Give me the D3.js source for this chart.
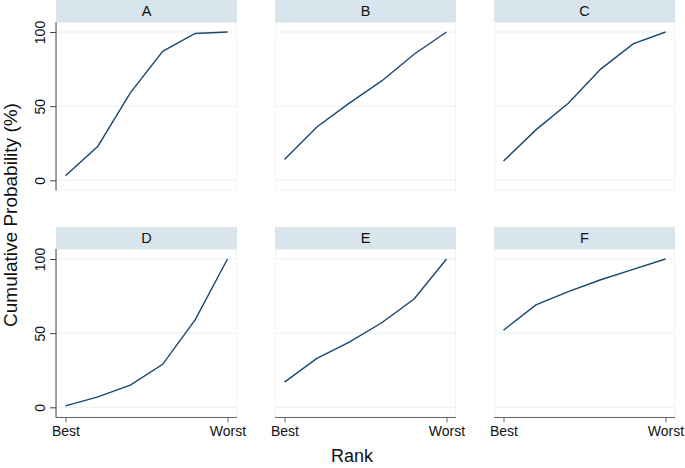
<!DOCTYPE html>
<html><head><meta charset="utf-8">
<script src="https://cdn.jsdelivr.net/npm/d3@7"></script>
<style>body{margin:0;background:#fff}svg{display:block;font-family:"Liberation Sans",Arial,sans-serif}</style>
</head><body><svg id="c" width="685" height="468"></svg>
<script>
const panels = ["A","B","C","D","E","F"];
const ranks = [1,2,3,4,5,6];
const valsA = [3,23,59,87,99,100];
const valsB = [14,36,52,67,85,100];
const valsC = [13,34,52,75,92,100];
const valsD = [1,7,15,29,59,100];
const valsE = [17,33,44,57,73,100];
const valsF = [52,69,78,86,93,100];
const series = [valsA,valsB,valsC,valsD,valsE,valsF];
const yTicks = [0,50,100];
const xTickVals = [1,6];
const xTickLabels = ["Best","Worst"];

const svg = d3.select("#c");
const colX = [56,275,494], pw = 181;
const rowTop = [0,227], hh = 22, ph = 168.5;
const lineColor = "#1a476f";

panels.forEach((p,i)=>{
  const c = i%3, r = Math.floor(i/3);
  const left = colX[c], top = rowTop[r];
  const pTop = top+hh, pBot = pTop+ph;
  const x = d3.scaleLinear().domain([1,6]).range([left+9.5,left+pw-9.5]);
  const y = d3.scaleLinear().domain([0,100]).range([pBot-10.2,pTop+10]);
  const g = svg.append("g");
  g.append("rect").attr("x",left).attr("y",top).attr("width",pw).attr("height",hh).attr("fill","#d9e5ec");
  g.append("text").attr("x",left+pw/2).attr("y",top+hh/2+5).attr("text-anchor","middle")
    .attr("font-size",14.5).attr("fill","#111").text(p);
  g.append("rect").attr("x",left+0.5).attr("y",pTop+0.5).attr("width",pw-1).attr("height",ph-1)
    .attr("fill","none").attr("stroke","#eef3f5");
  g.selectAll(".grid").data(yTicks).enter().append("line")
    .attr("x1",left).attr("x2",left+pw).attr("y1",d=>y(d)).attr("y2",d=>y(d))
    .attr("stroke","#e8f0f2").attr("stroke-width",1);
  if(c===0){
    const ax = g.append("g").attr("transform",`translate(${left},0)`)
      .call(d3.axisLeft(y).tickValues(yTicks).tickSize(6).tickPadding(4).tickFormat(d3.format("d")));
    ax.select(".domain").attr("d",`M0,${pTop}V${pBot}`).attr("stroke","#444");
    ax.selectAll(".tick line").attr("stroke","#444");
    ax.selectAll(".tick text").attr("font-size",14).attr("font-family","Liberation Sans, Arial, sans-serif")
      .attr("fill","#111").attr("text-anchor","middle").attr("dy",0)
      .attr("transform","rotate(-90)").attr("x",0).attr("y",-11);
  }
  if(r===1){
    const ax = g.append("g").attr("transform",`translate(0,${pBot})`)
      .call(d3.axisBottom(x).tickValues(xTickVals).tickSize(5).tickPadding(4)
        .tickFormat((d,k)=>xTickLabels[k]));
    ax.select(".domain").attr("d",`M${left},0H${left+pw}`).attr("stroke","#666");
    ax.selectAll(".tick line").attr("stroke","#666");
    ax.selectAll(".tick text").attr("font-size",14).attr("font-family","Liberation Sans, Arial, sans-serif").attr("fill","#111");
  }
  const data = ranks.map((rk,k)=>[rk,series[i][k]]);
  g.append("path").datum(data).attr("fill","none").attr("stroke",lineColor).attr("stroke-width",1.4)
    .attr("d",d3.line().x(d=>x(d[0])).y(d=>y(d[1])));
});

svg.append("text").attr("transform","translate(17,215) rotate(-90)").attr("text-anchor","middle")
  .attr("font-size",19).attr("fill","#111").text("Cumulative Probability (%)");
svg.append("text").attr("x",352).attr("y",462).attr("text-anchor","middle")
  .attr("font-size",18).attr("fill","#111").text("Rank");
</script></body></html>
